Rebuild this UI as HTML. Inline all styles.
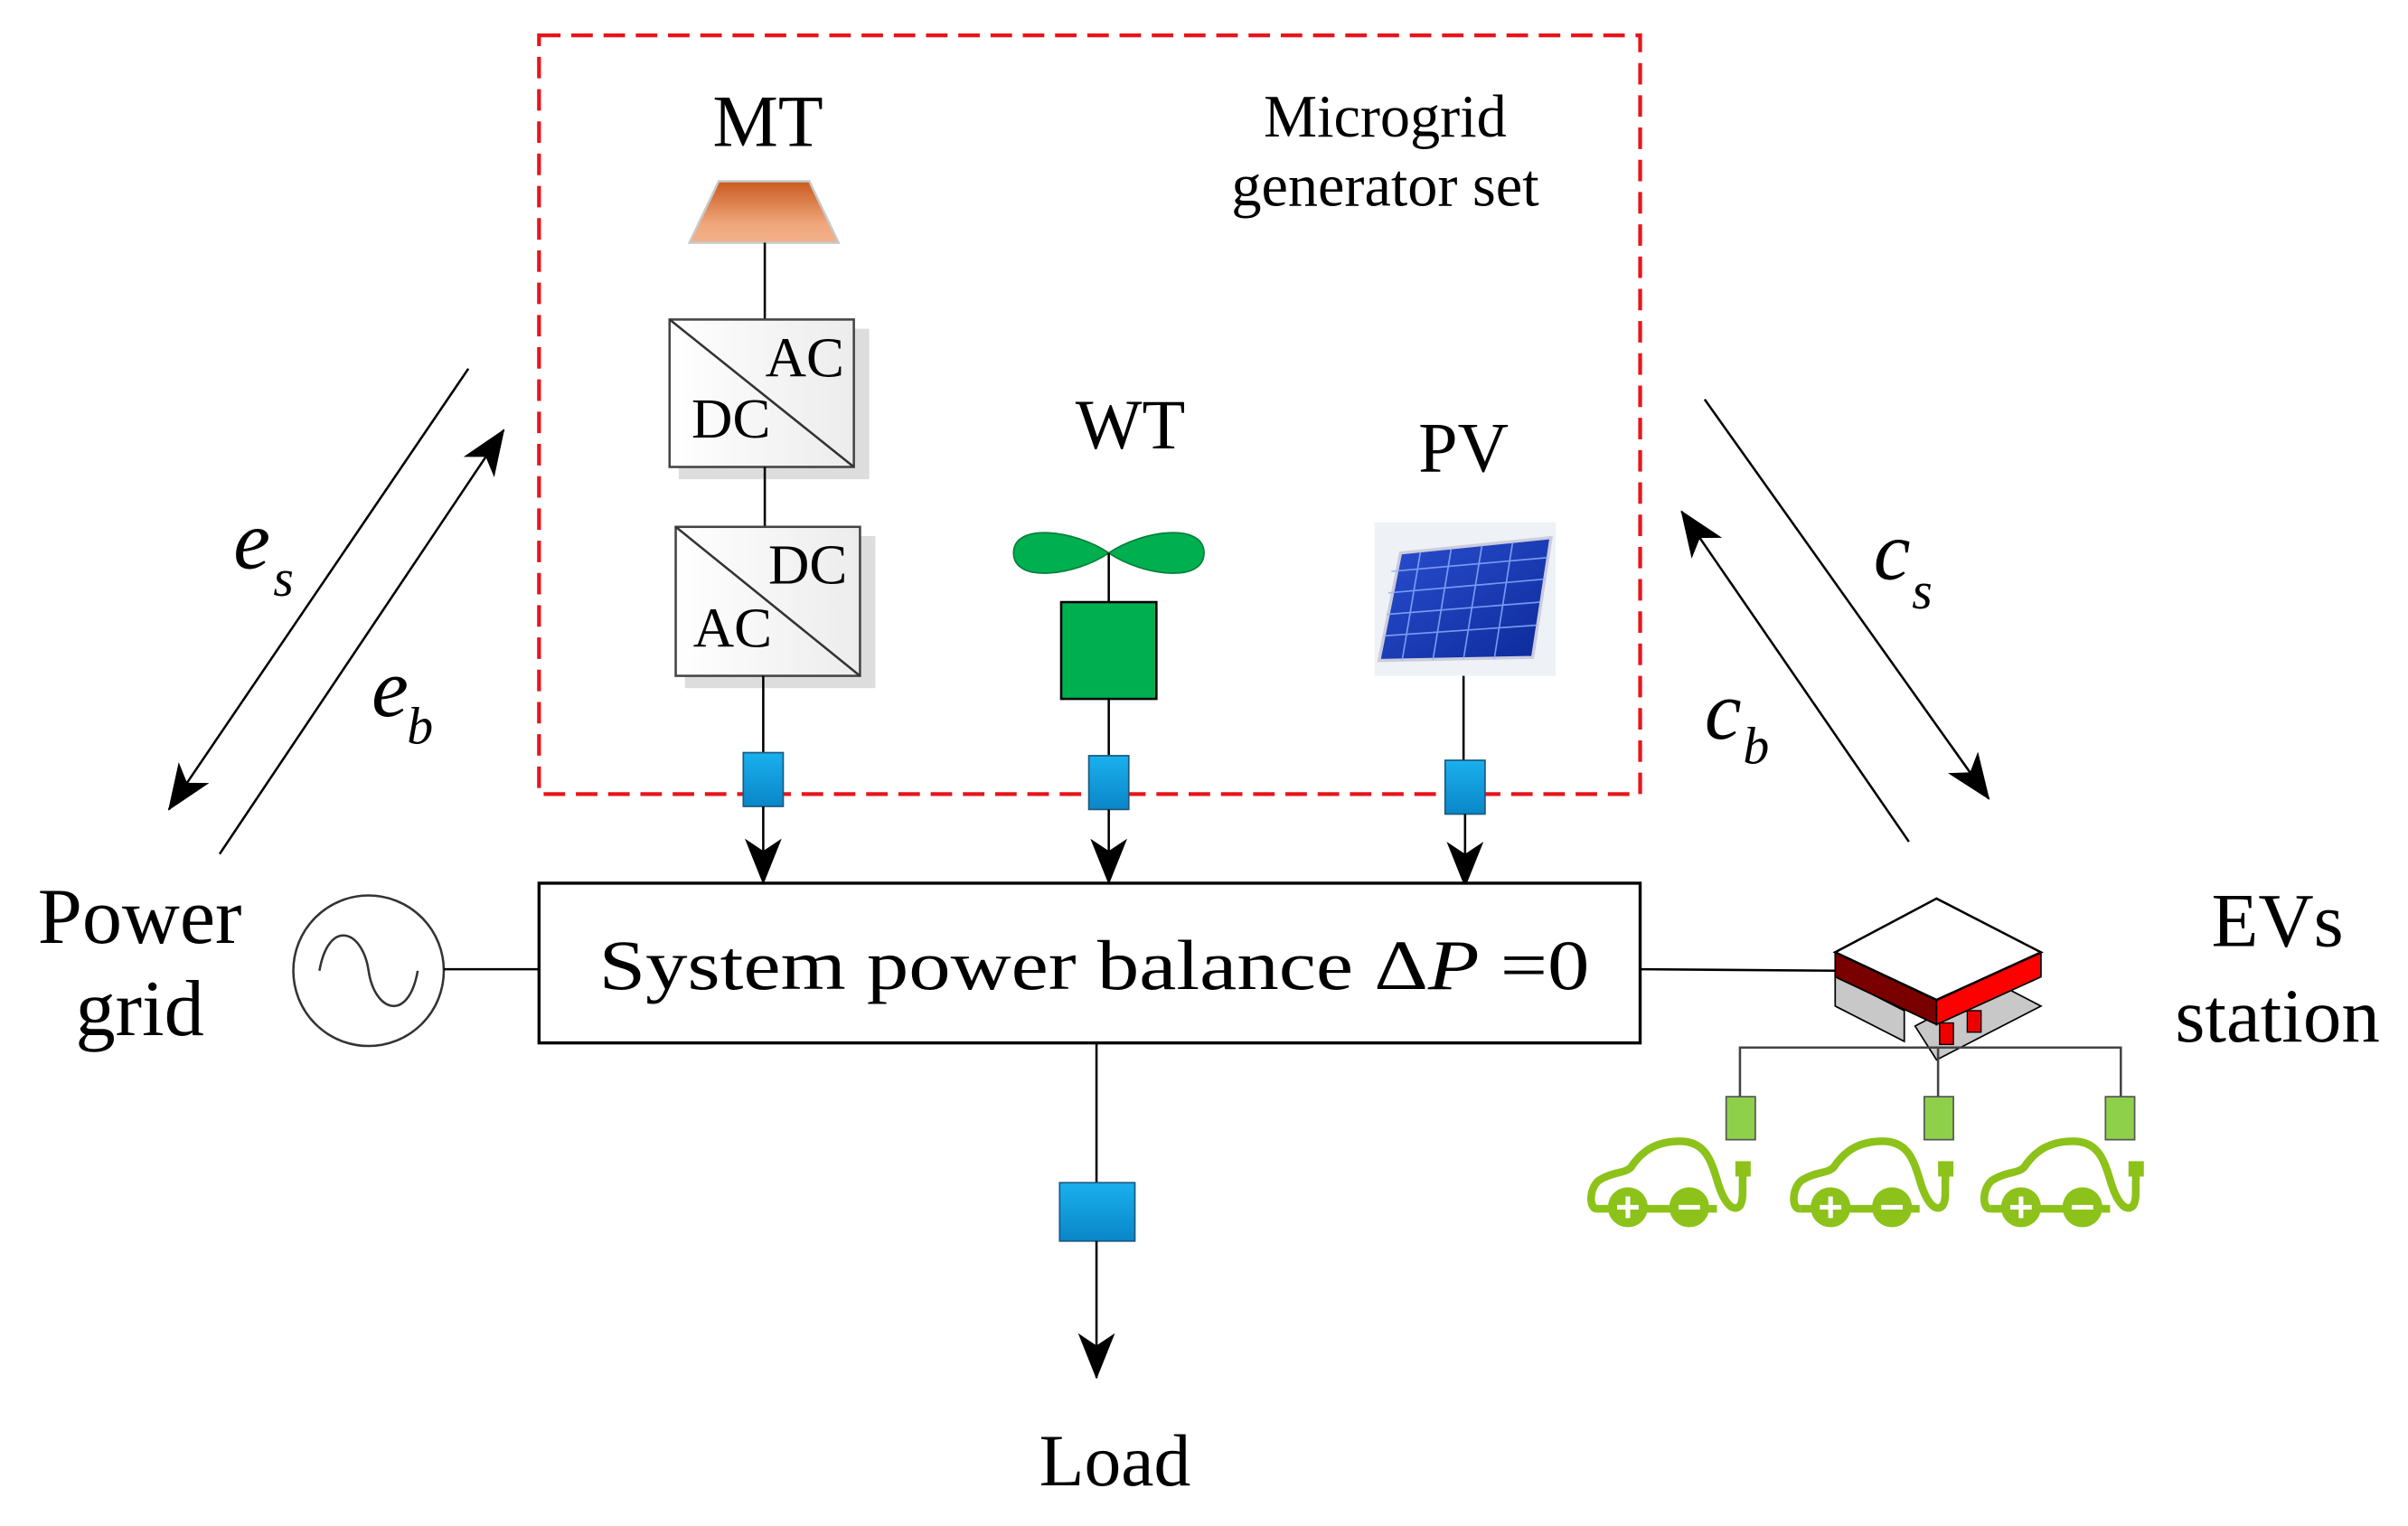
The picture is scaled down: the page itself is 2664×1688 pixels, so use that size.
<!DOCTYPE html>
<html><head><meta charset="utf-8"><style>
html,body{margin:0;padding:0;background:#fff;}
svg{display:block;}
text{font-family:"Liberation Serif",serif;fill:#000;}
</style></head><body>
<svg width="2664" height="1688" viewBox="0 0 1568 993.5" xmlns="http://www.w3.org/2000/svg">
<defs>
<marker id="ah" viewBox="0 0 30 24" refX="29" refY="12" markerWidth="30" markerHeight="24" markerUnits="userSpaceOnUse" orient="auto">
<path d="M0,0 L30,12 L0,24 L8,12 Z" fill="#000"/>
</marker>
<linearGradient id="mt" x1="0" y1="0" x2="0" y2="1"><stop offset="0" stop-color="#c85a1e"/><stop offset="0.7" stop-color="#f0a77c"/><stop offset="1" stop-color="#f2b08a"/></linearGradient>
<linearGradient id="cv" x1="0" y1="0" x2="1" y2="0"><stop offset="0" stop-color="#fff"/><stop offset="1" stop-color="#ececec"/></linearGradient>
<linearGradient id="bl" x1="0" y1="0" x2="0" y2="1"><stop offset="0" stop-color="#1ab0ee"/><stop offset="1" stop-color="#0a86c8"/></linearGradient>
<linearGradient id="pv" x1="0" y1="0" x2="1" y2="1"><stop offset="0" stop-color="#2a4fd0"/><stop offset="1" stop-color="#0c2a9a"/></linearGradient>
</defs>

<rect x="351" y="23" width="717" height="494" fill="none" stroke="#e8141a" stroke-width="2.5" stroke-dasharray="14,7"/>
<text x="500" y="95" font-size="48" text-anchor="middle">MT</text>
<text x="902" y="89" font-size="39" text-anchor="middle">Microgrid</text>
<text x="902" y="134" font-size="39" text-anchor="middle">generator set</text>

<polygon points="468,118 527,118 546,158 449,158" fill="url(#mt)" stroke="#c8c8c8" stroke-width="1.5"/>
<line x1="498" y1="158" x2="498" y2="208" stroke="#000" stroke-width="1.5"/>
<rect x="442" y="214" width="124" height="98" fill="#ddd"/>
<rect x="436" y="208" width="120" height="96" fill="url(#cv)" stroke="#444" stroke-width="1.5"/>
<line x1="436" y1="208" x2="556" y2="304" stroke="#333" stroke-width="1.5"/>
<text x="524" y="245" font-size="37" text-anchor="middle">AC</text>
<text x="476" y="285" font-size="37" text-anchor="middle">DC</text>
<line x1="498" y1="304" x2="498" y2="343" stroke="#000" stroke-width="1.5"/>
<rect x="446" y="349" width="124" height="99" fill="#ddd"/>
<rect x="440" y="343" width="120" height="97" fill="url(#cv)" stroke="#444" stroke-width="1.5"/>
<line x1="440" y1="343" x2="560" y2="440" stroke="#333" stroke-width="1.5"/>
<text x="526" y="380" font-size="37" text-anchor="middle">DC</text>
<text x="477" y="421" font-size="37" text-anchor="middle">AC</text>
<line x1="497" y1="440" x2="497" y2="490" stroke="#000" stroke-width="1.5"/>
<rect x="484" y="490" width="26" height="35" fill="url(#bl)" stroke="#1a5a80" stroke-width="1"/>
<line x1="497" y1="525" x2="497" y2="575" stroke="#000" stroke-width="1.5" marker-end="url(#ah)"/>

<text x="736" y="292" font-size="46" text-anchor="middle">WT</text>
<path d="M722,360 C700,345 660,340 660,360 C660,380 700,375 722,360 C744,345 784,340 784,360 C784,380 744,375 722,360 Z" fill="#00b050" stroke="#00803a" stroke-width="1"/>
<line x1="722" y1="360" x2="722" y2="392" stroke="#000" stroke-width="1.5"/>
<rect x="691" y="392" width="62" height="63" fill="#00b050" stroke="#000" stroke-width="1.5"/>
<line x1="722" y1="455" x2="722" y2="492" stroke="#000" stroke-width="1.5"/>
<rect x="709" y="492" width="26" height="35" fill="url(#bl)" stroke="#1a5a80" stroke-width="1"/>
<line x1="722" y1="527" x2="722" y2="575" stroke="#000" stroke-width="1.5" marker-end="url(#ah)"/>

<text x="953" y="307" font-size="46" text-anchor="middle">PV</text>
<rect x="895" y="340" width="118" height="100" fill="#eef2f6"/>
<polygon points="912,360 1010,350 998,428 898,430" fill="url(#pv)" stroke="#ccd" stroke-width="2"/>
<g stroke="#8fb0ff" stroke-width="1" opacity="0.8">
<line x1="906" y1="372" x2="1008" y2="363"/><line x1="904" y1="386" x2="1006" y2="377"/><line x1="903" y1="400" x2="1003" y2="392"/><line x1="901" y1="414" x2="1001" y2="407"/>
<line x1="925" y1="359" x2="913" y2="430"/><line x1="945" y1="357" x2="933" y2="430"/><line x1="965" y1="355" x2="953" y2="429"/><line x1="985" y1="353" x2="973" y2="429"/>
</g>
<line x1="953" y1="440" x2="953" y2="495" stroke="#000" stroke-width="1.5"/>
<rect x="941" y="495" width="26" height="35" fill="url(#bl)" stroke="#1a5a80" stroke-width="1"/>
<line x1="954" y1="530" x2="954" y2="577" stroke="#000" stroke-width="1.5" marker-end="url(#ah)"/>

<rect x="351" y="575" width="717" height="104" fill="#fff" stroke="#000" stroke-width="2"/>
<text x="390" y="644" font-size="46" textLength="645" lengthAdjust="spacingAndGlyphs">System power balance  Δ<tspan font-style="italic">P</tspan> =0</text>

<circle cx="240" cy="632" r="49" fill="#fff" stroke="#333" stroke-width="1.5"/>
<path d="M208,632 C214,598 236,605 240,632 C244,659 266,666 272,632" fill="none" stroke="#333" stroke-width="1.5"/>
<line x1="289" y1="631" x2="351" y2="631" stroke="#000" stroke-width="1.5"/>
<text x="91" y="614" font-size="52" text-anchor="middle">Power</text>
<text x="91" y="674" font-size="52" text-anchor="middle">grid</text>

<line x1="305" y1="240" x2="110" y2="527" stroke="#000" stroke-width="1.5" marker-end="url(#ah)"/>
<line x1="143" y1="556" x2="328" y2="280" stroke="#000" stroke-width="1.5" marker-end="url(#ah)"/>
<text x="152" y="370" font-size="54" font-style="italic">e</text><text x="178" y="388" font-size="34" font-style="italic">s</text>
<text x="242" y="466" font-size="54" font-style="italic">e</text><text x="265" y="484" font-size="34" font-style="italic">b</text>

<line x1="1110" y1="260" x2="1295" y2="520" stroke="#000" stroke-width="1.5" marker-end="url(#ah)"/>
<line x1="1243" y1="548" x2="1095" y2="333" stroke="#000" stroke-width="1.5" marker-end="url(#ah)"/>
<text x="1220" y="377" font-size="54" font-style="italic">c</text><text x="1245" y="396" font-size="34" font-style="italic">s</text>
<text x="1110" y="481" font-size="54" font-style="italic">c</text><text x="1135" y="497" font-size="34" font-style="italic">b</text>

<!-- station -->
<line x1="1068" y1="631" x2="1195" y2="632" stroke="#000" stroke-width="1.5"/>
<polygon points="1247,668 1300,640 1329,655 1261,690" fill="#c8c8c8" stroke="#000" stroke-width="1"/>
<polygon points="1195,635 1240,658 1240,678 1195,655" fill="#c8c8c8" stroke="#000" stroke-width="1"/>
<polygon points="1195,620 1261,651 1261,667 1195,636" fill="#7a0000" stroke="#000" stroke-width="1"/>
<polygon points="1261,651 1329,620 1329,636 1261,667" fill="#f00" stroke="#000" stroke-width="1"/>
<polygon points="1195,620 1261,585 1329,620 1261,651" fill="#fff" stroke="#000" stroke-width="1.5"/>
<rect x="1263" y="666" width="9" height="14" fill="#e00" stroke="#000" stroke-width="0.8"/>
<rect x="1281" y="658" width="9" height="14" fill="#e00" stroke="#000" stroke-width="0.8"/>
<text x="1483" y="616" font-size="50" text-anchor="middle">EVs</text>
<text x="1483" y="678" font-size="50" text-anchor="middle">station</text>

<polyline points="1133,714 1133,682 1381,682 1381,714" fill="none" stroke="#444" stroke-width="1.5"/>
<line x1="1262" y1="682" x2="1262" y2="714" stroke="#444" stroke-width="1.5"/>
<rect x="1124" y="714" width="19" height="28" fill="#8fd04a" stroke="#555" stroke-width="1"/>
<rect x="1253" y="714" width="19" height="28" fill="#8fd04a" stroke="#555" stroke-width="1"/>
<rect x="1371" y="714" width="19" height="28" fill="#8fd04a" stroke="#555" stroke-width="1"/>

<g id="car" fill="none" stroke="#8cc21a" stroke-width="5">
<path d="M1040,787 C1034,787 1035,772 1042,768 C1050,763 1058,764 1062,760 C1070,748 1080,743 1094,743 C1110,743 1114,755 1118,768 C1122,782 1128,790 1133,785 C1136,780 1134,772 1135,765"/>
<line x1="1040" y1="787" x2="1118" y2="787"/>
<circle cx="1060" cy="786" r="13" fill="#8cc21a" stroke="none"/>
<circle cx="1100" cy="786" r="13" fill="#8cc21a" stroke="none"/>
<path d="M1053,786 h14 M1060,779 v14 M1093,786 h14" stroke="#fff" stroke-width="3"/>
<rect x="1130" y="756" width="10" height="10" fill="#8cc21a" stroke="none"/>
</g>
<use href="#car" x="132" y="0"/>
<use href="#car" x="256" y="0"/>

<line x1="714" y1="679" x2="714" y2="770" stroke="#000" stroke-width="1.5"/>
<rect x="690" y="770" width="49" height="38" fill="url(#bl)" stroke="#1a5a80" stroke-width="1"/>
<line x1="714" y1="808" x2="714" y2="897" stroke="#000" stroke-width="1.5" marker-end="url(#ah)"/>
<text x="726" y="967" font-size="48" text-anchor="middle">Load</text>
</svg>
</body></html>
